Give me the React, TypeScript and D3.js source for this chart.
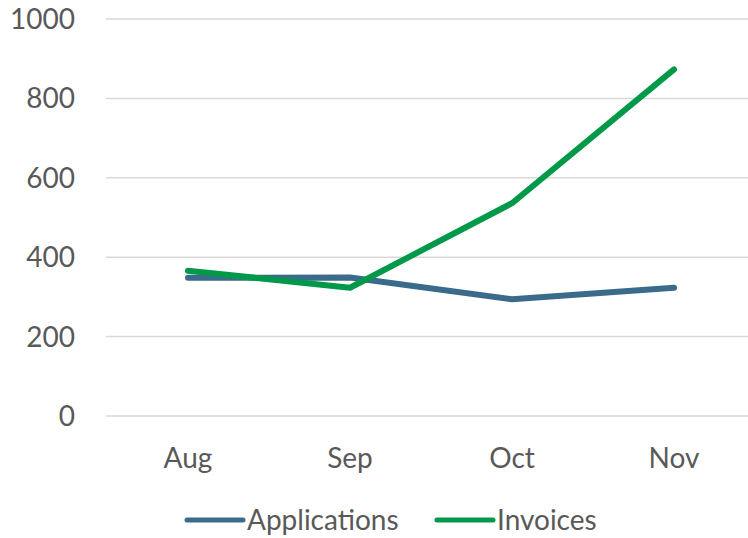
import React from "react";
import * as d3 from "d3";

const categories = ["Aug", "Sep", "Oct", "Nov"];
const applications = [348, 349, 294, 323];
const invoices = [366, 323, 536, 873];
const yTicks = [0, 200, 400, 600, 800, 1000];
const seriesNames = ["Applications", "Invoices"];
const seriesColors = ["#3A6B8A", "#00994A"];

export default function App() {
  const W = 748, H = 538;
  const x = d3.scalePoint<string>().domain(categories).range([188, 674]);
  const y = d3.scaleLinear().domain([0, 1000]).range([416, 19]);
  const line = d3.line<number>()
    .x((_, i) => x(categories[i]) as number)
    .y((d) => y(d));
  const series = [applications, invoices];
  const font = "Lato, 'Open Sans', sans-serif";
  const textColor = "#595959";
  const fs = 28;
  const legendItems = [
    { x1: 187, x2: 243, tx: 247 },
    { x1: 437, x2: 493, tx: 497 },
  ];
  return (
    <svg width={W} height={H} style={{ position: "absolute", left: 0, top: 0, background: "#fff" }}>
      {yTicks.map((t) => (
        <g key={t}>
          <line x1={106} x2={W} y1={y(t)} y2={y(t)} stroke="#d9d9d9" strokeWidth={1.5} />
          <text x={75} y={y(t)} dy="0.36em" textAnchor="end" fontFamily={font} fontSize={fs} fill={textColor}>
            {t}
          </text>
        </g>
      ))}
      {categories.map((c) => (
        <text key={c} x={x(c) as number} y={468} textAnchor="middle" fontFamily={font} fontSize={fs} fill={textColor}>
          {c}
        </text>
      ))}
      {series.map((s, i) => (
        <path key={i} d={line(s) || ""} fill="none" stroke={seriesColors[i]} strokeWidth={6}
          strokeLinecap="round" strokeLinejoin="round" />
      ))}
      {seriesNames.map((n, i) => (
        <g key={n}>
          <line x1={legendItems[i].x1} x2={legendItems[i].x2} y1={520} y2={520}
            stroke={seriesColors[i]} strokeWidth={5} strokeLinecap="round" />
          <text x={legendItems[i].tx} y={520} dy="0.36em" fontFamily={font} fontSize={fs} fill={textColor}>
            {n}
          </text>
        </g>
      ))}
    </svg>
  );
}
